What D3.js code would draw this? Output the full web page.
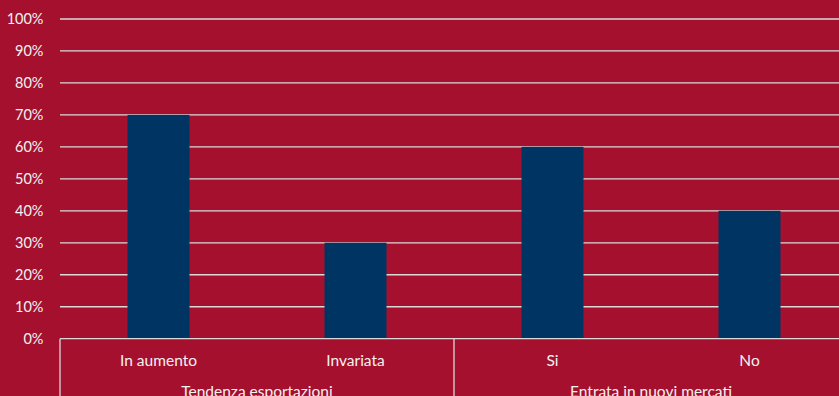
<!DOCTYPE html>
<html>
<head>
<meta charset="utf-8">
<script src="https://cdn.jsdelivr.net/npm/d3@7"></script>
<style>
  html, body { margin: 0; padding: 0; background: #A5102E; }
  svg { display: block; }
  text { font-family: Lato, "Open Sans", sans-serif; fill: #F2F2F2; }
</style>
</head>
<body>
<svg id="chart" width="839" height="396"></svg>
<script>
// Share of respondents per answer, grouped by question
const categories = ["In aumento", "Invariata", "Si", "No"];
const values = [0.70, 0.30, 0.60, 0.40];
const groups = ["Tendenza esportazioni", "Entrata in nuovi mercati"];
const groupOf = [0, 0, 1, 1];
const yTicks = [0, 0.1, 0.2, 0.3, 0.4, 0.5, 0.6, 0.7, 0.8, 0.9, 1.0];

const W = 839, H = 396;
const plotLeft = 60, slot = 197;
const plotRight = plotLeft + slot * categories.length;
const plotTop = 19, plotBase = 338.7;

const svg = d3.select("#chart");
svg.append("rect").attr("width", W).attr("height", H).attr("fill", "#A5102E");

const y = d3.scaleLinear().domain([0, 1]).range([plotBase, plotTop]);
const pIn = 1 - 62 / slot;
const x = d3.scaleBand().domain(categories).range([plotLeft, plotRight])
  .paddingInner(pIn).paddingOuter(pIn / 2);
const slotScale = d3.scaleBand().domain(categories).range([plotLeft, plotRight]);

// horizontal gridlines
svg.append("g").selectAll("line").data(yTicks.filter(d => d > 0)).join("line")
  .attr("x1", plotLeft).attr("x2", plotRight)
  .attr("y1", d => y(d)).attr("y2", d => y(d))
  .attr("stroke", "#D9D9D9").attr("stroke-width", 1.3);

// y axis labels
const yAxis = d3.axisLeft(y).tickValues(yTicks).tickFormat(d3.format(".0%")).tickSize(0).tickPadding(0);
const gy = svg.append("g").attr("transform", "translate(43.5,0)").call(yAxis);
gy.select(".domain").remove();
gy.selectAll("text").attr("font-size", 14.5)
  .style("font-family", "Lato, 'Open Sans', sans-serif").attr("fill", "#F2F2F2");

// bars
svg.append("g").selectAll("rect").data(values).join("rect")
  .attr("x", (d, i) => x(categories[i]))
  .attr("width", x.bandwidth())
  .attr("y", d => y(d))
  .attr("height", d => y(0) - y(d))
  .attr("fill", "#003462");

// baseline and category frame
const axisCol = "#D9D9D9";
svg.append("line").attr("x1", plotLeft).attr("x2", plotRight).attr("y1", y(0)).attr("y2", y(0))
  .attr("stroke", axisCol).attr("stroke-width", 1.3);

// vertical separators at the edges of each group
const groupEdges = [plotLeft];
groups.forEach((g, gi) => {
  const members = categories.filter((c, i) => groupOf[i] === gi);
  groupEdges.push(slotScale(members[members.length - 1]) + slotScale.bandwidth());
});
svg.append("g").selectAll("line").data(groupEdges).join("line")
  .attr("x1", d => d).attr("x2", d => d)
  .attr("y1", y(0)).attr("y2", H + 5)
  .attr("stroke", axisCol).attr("stroke-width", 1.3);

// category labels
svg.append("g").selectAll("text").data(categories).join("text")
  .attr("x", d => slotScale(d) + slotScale.bandwidth() / 2)
  .attr("y", 365.5)
  .attr("text-anchor", "middle")
  .attr("font-size", 15.5)
  .text(d => d);

// group labels (second row of the category axis, running off the bottom edge)
svg.append("g").selectAll("text").data(groups).join("text")
  .attr("x", (g, gi) => (groupEdges[gi] + groupEdges[gi + 1]) / 2)
  .attr("y", 397)
  .attr("text-anchor", "middle")
  .attr("font-size", 15.5)
  .text(d => d);
</script>
</body>
</html>
